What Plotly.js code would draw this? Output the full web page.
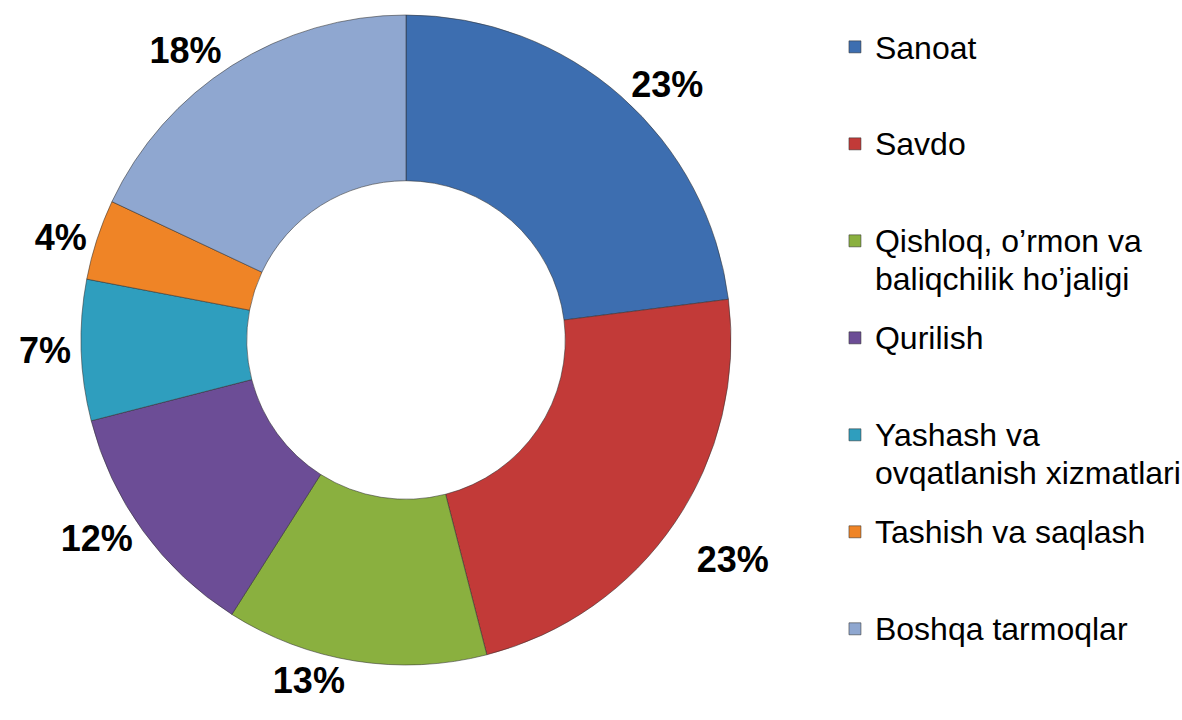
<!DOCTYPE html>
<html>
<head>
<meta charset="utf-8">
<script src="https://cdn.plot.ly/plotly-3.0.1.min.js"></script>
<style>
  html, body { margin: 0; padding: 0; background: #ffffff; }
  #chart { width: 1182px; height: 720px; }
</style>
</head>
<body>
<div id="chart"></div>
<script>
// Data
const categories = [
  'Sanoat',
  'Savdo',
  'Qishloq, o’rmon va<br>baliqchilik ho’jaligi',
  'Qurilish',
  'Yashash va<br>ovqatlanish xizmatlari',
  'Tashish va saqlash',
  'Boshqa tarmoqlar'
];
const shares = [23, 23, 13, 12, 7, 4, 18];
const sliceColors = ['#3D6EB0', '#C23A38', '#8AB03F', '#6C4D96', '#2F9EBE', '#EF8426', '#8FA7D0'];

// Legend labels: every text line is followed by a blank line and each entry is
// padded to five lines, so that entries are evenly spaced like the reference.
function legendLabel(s) {
  const parts = s.split('<br>');
  const lines = [];
  parts.forEach((p, i) => {
    lines.push('<span style="font-size:32px;baseline-shift:-6px">' + p + '</span>');
    if (i < parts.length - 1) lines.push(' ');
  });
  while (lines.length < 5) lines.push(' ');
  return lines.join('<br>');
}
const displayLabels = categories.map(legendLabel);

// Percent label template; the second slice's label sits a little lower in the reference,
// so it gets an empty leading line.
const pctTemplates = categories.map((c, i) => (i === 1 ? '\u00A0<br>' : '') + '%{percent:.0%}');

const W = 1182, H = 720;
const cx = 406, cy = 340, R = 325;

const trace = {
  type: 'pie',
  labels: displayLabels,
  values: shares,
  sort: false,
  direction: 'clockwise',
  rotation: 0,
  hole: 0.49,
  marker: { colors: sliceColors, line: { color: 'rgba(50,50,50,0.55)', width: 1 } },
  texttemplate: pctTemplates,
  textposition: 'outside',
  outsidetextfont: { family: 'Arial, "Liberation Sans", sans-serif', size: 36, color: '#000000', weight: 'bold' },
  domain: { x: [(cx - R) / W, (cx + R) / W], y: [(H - cy - R) / H, (H - cy + R) / H] },
  hoverinfo: 'percent'
};

const layout = {
  width: W,
  height: H,
  margin: { l: 0, r: 0, t: 0, b: 0, autoexpand: false },
  paper_bgcolor: '#ffffff',
  plot_bgcolor: '#ffffff',
  showlegend: true,
  legend: {
    x: 0.7064, xanchor: 'left',
    y: 0.957, yanchor: 'top',
    valign: 'top',
    font: { family: 'Arial, "Liberation Sans", sans-serif', size: 14.46, color: '#000000' },
    bgcolor: 'rgba(0,0,0,0)'
  },
  font: { family: 'Arial, "Liberation Sans", sans-serif' }
};

Plotly.newPlot('chart', [trace], layout, { displayModeBar: false, staticPlot: true });
</script>
</body>
</html>
